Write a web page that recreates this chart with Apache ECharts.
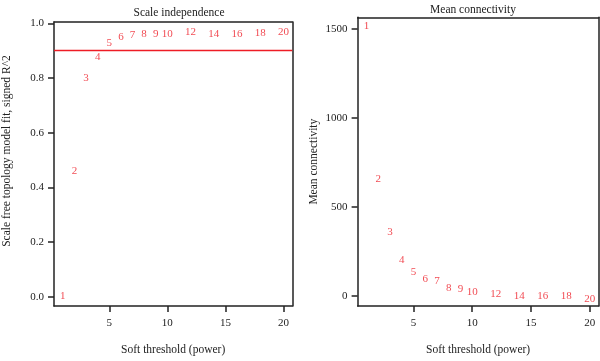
<!DOCTYPE html>
<html>
<head>
<meta charset="utf-8">
<script src="https://cdn.jsdelivr.net/npm/echarts@6/dist/echarts.min.js"></script>
<style>html,body{margin:0;padding:0;background:#fff}#c{width:600px;height:361px}</style>
</head>
<body>
<div id="c"></div>
<script>
const powers = [1,2,3,4,5,6,7,8,9,10,12,14,16,18,20];
const sftFit = [0.003,0.459,0.799,0.878,0.928,0.948,0.955,0.960,0.962,0.962,0.966,0.960,0.960,0.965,0.968];
const meanK = [1516,656,358,204,136,94,83,48,39,24,13,0,2,2,-15];
const xTicks = [5,10,15,20];
const yTicksFit = [0,0.2,0.4,0.6,0.8,1.0];
const yTicksK = [0,500,1000,1500];
const cutoff = 0.9;

const FONT = '"Liberation Serif", "DejaVu Serif", serif';
const RED = '#ee1c25';
const INK = '#222';

function xAxisCfg(idx){
  return {
    gridIndex: idx, type: 'value', min: 0.24, max: 20.76,
    name: 'Soft threshold (power)', nameLocation: 'middle', nameGap: 38,
    nameTextStyle: {fontFamily: FONT, fontSize: 11.5, color: INK},
    axisLine: {show: true, onZero: false, lineStyle: {color: INK, width: 1.5}}, splitLine: {show: false},
    axisTick: {show: true, length: 6, customValues: xTicks, lineStyle: {color: INK, width: 1.5}},
    axisLabel: {customValues: xTicks, margin: 12, fontFamily: FONT, fontSize: 11, color: INK,
                formatter: v => String(v)}
  };
}
function yAxisCfg(idx, min, max, ticks, name, gap, margin, fmt, pad){
  return {
    gridIndex: idx, type: 'value', min: min, max: max,
    name: name, nameLocation: 'middle', nameGap: gap,
    nameTextStyle: {fontFamily: FONT, fontSize: 11.5, color: INK, padding: pad},
    axisLine: {show: true, onZero: false, lineStyle: {color: INK, width: 1.5}}, splitLine: {show: false},
    axisTick: {show: true, length: 6, customValues: ticks, lineStyle: {color: INK, width: 1.5}},
    axisLabel: {customValues: ticks, margin: margin, fontFamily: FONT, fontSize: 11, color: INK, formatter: fmt}
  };
}
function boxAxis(idx, pos){
  return {gridIndex: idx, type: 'value', position: pos,
    axisLine: {show: true, onZero: false, lineStyle: {color: INK, width: 1.5}},
    axisTick: {show: false}, axisLabel: {show: false}, splitLine: {show: false}};
}

const option = {
  animation: false,
  backgroundColor: '#fff',
  title: [
    {text: 'Scale independence', left: 174, top: 2, textAlign: 'center',
     textStyle: {fontFamily: FONT, fontSize: 11.5, fontWeight: 'normal', color: INK}},
    {text: 'Mean connectivity', left: 468, top: -1, textAlign: 'center',
     textStyle: {fontFamily: FONT, fontSize: 11.5, fontWeight: 'normal', color: INK}}
  ],
  grid: [
    {left: 52.3, top: 22, width: 240, height: 289},
    {left: 357.6, top: 17.3, width: 241, height: 293.7}
  ],
  xAxis: [xAxisCfg(0), xAxisCfg(1), boxAxis(0, 'top'), boxAxis(1, 'top')],
  yAxis: [
    yAxisCfg(0, -0.0334, 1.0047, yTicksFit, 'Scale free topology model fit, signed R^2', 41, 10, v => Number(v).toFixed(1), [0, 0, 0, 26]),
    yAxisCfg(1, -55, 1565, yTicksK, 'Mean connectivity', 38, 10, v => String(v), 0),
    boxAxis(0, 'right'), boxAxis(1, 'right')
  ],
  series: [
    {type: 'scatter', xAxisIndex: 0, yAxisIndex: 0,
     data: powers.map((p, i) => [p, sftFit[i]]),
     symbolSize: 1, itemStyle: {color: 'rgba(0,0,0,0)'},
     label: {show: true, position: 'inside', formatter: p => String(p.value[0]),
             fontFamily: FONT, fontSize: 11, color: RED},
     markLine: {silent: true, symbol: 'none', label: {show: false},
                lineStyle: {color: RED, type: 'solid', width: 1.3},
                data: [{yAxis: cutoff}]}},
    {type: 'scatter', xAxisIndex: 1, yAxisIndex: 1,
     data: powers.map((p, i) => [p, meanK[i]]),
     symbolSize: 1, itemStyle: {color: 'rgba(0,0,0,0)'},
     label: {show: true, position: 'inside', formatter: p => String(p.value[0]),
             fontFamily: FONT, fontSize: 11, color: RED}}
  ]
};
const chart = echarts.init(document.getElementById('c'), null, {renderer: 'canvas'});
chart.setOption(option);
</script>
</body>
</html>
